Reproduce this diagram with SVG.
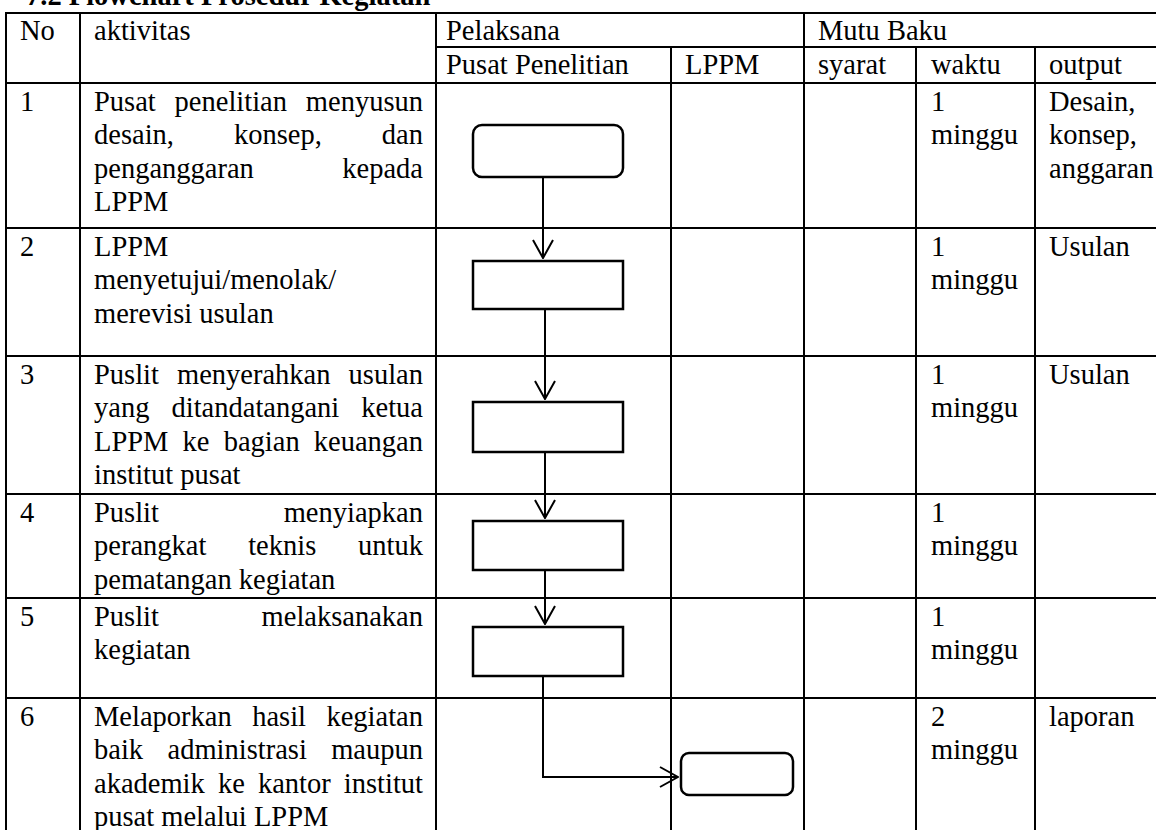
<svg xmlns="http://www.w3.org/2000/svg" width="1156" height="830" viewBox="0 0 1156 830">
<style>
  text { font-family: "Liberation Serif", "Times New Roman", serif; font-size: 28.5px; fill: #000; }
  .title { font-weight: bold; }
  .end { text-anchor: end; }
  .grid line { stroke: #000; stroke-width: 2; }
  .box { fill: #fff; stroke: #000; stroke-width: 2.5; }
  .conn { fill: none; stroke: #000; stroke-width: 2; }
</style>
<defs>
  <marker id="arrow" viewBox="0 0 20 22" refX="19" refY="11" markerWidth="20" markerHeight="22" markerUnits="userSpaceOnUse" orient="auto">
    <path d="M1,1 L19,11 L1,21" fill="none" stroke="#000" stroke-width="2"/>
  </marker>
</defs>
<rect width="1156" height="830" fill="#fff"/>

<text class="title" x="26" y="5">7.2 Flowchart Prosedur Kegiatan</text>

<g class="grid" id="table">
  <line x1="5" y1="13" x2="1156" y2="13"/>
  <line x1="436" y1="47" x2="1156" y2="47"/>
  <line x1="5" y1="83" x2="1156" y2="83"/>
  <line x1="5" y1="228" x2="1156" y2="228"/>
  <line x1="5" y1="356" x2="1156" y2="356"/>
  <line x1="5" y1="494" x2="1156" y2="494"/>
  <line x1="5" y1="598" x2="1156" y2="598"/>
  <line x1="5" y1="698" x2="1156" y2="698"/>
  <line x1="6" y1="12" x2="6" y2="830"/>
  <line x1="80" y1="12" x2="80" y2="830"/>
  <line x1="436" y1="12" x2="436" y2="830"/>
  <line x1="671" y1="47" x2="671" y2="830"/>
  <line x1="804" y1="12" x2="804" y2="830"/>
  <line x1="916" y1="47" x2="916" y2="830"/>
  <line x1="1035" y1="47" x2="1035" y2="830"/>
</g>

<g id="headers">
  <text x="20" y="40">No</text>
  <text x="94" y="40">aktivitas</text>
  <text x="446" y="40">Pelaksana</text>
  <text x="818" y="40">Mutu Baku</text>
  <text x="446" y="74">Pusat Penelitian</text>
  <text x="685" y="74">LPPM</text>
  <text x="818" y="74">syarat</text>
  <text x="931" y="74">waktu</text>
  <text x="1049" y="74">output</text>
</g>

<g id="row1">
  <text x="20" y="110.5">1</text>
  <text x="94" y="110.5">Pusat</text><text x="174.6" y="110.5">penelitian</text><text class="end" x="423" y="110.5">menyusun</text>
  <text x="94" y="144">desain,</text><text x="233.9" y="144">konsep,</text><text class="end" x="423" y="144">dan</text>
  <text x="94" y="177.5">penganggaran</text><text class="end" x="423" y="177.5">kepada</text>
  <text x="94" y="211">LPPM</text>
  <text x="931" y="110.5">1</text><text x="931" y="144">minggu</text>
  <text x="1049" y="110.5">Desain,</text><text x="1049" y="144">konsep,</text><text x="1049" y="177.5">anggaran</text>
</g>

<g id="row2">
  <text x="20" y="255.5">2</text>
  <text x="94" y="255.5">LPPM</text>
  <text x="94" y="289">menyetujui/menolak/</text>
  <text x="94" y="322.5">merevisi usulan</text>
  <text x="931" y="255.5">1</text><text x="931" y="289">minggu</text>
  <text x="1049" y="255.5">Usulan</text>
</g>

<g id="row3">
  <text x="20" y="383.5">3</text>
  <text x="94" y="383.5">Puslit</text><text x="177" y="383.5">menyerahkan</text><text class="end" x="423" y="383.5">usulan</text>
  <text x="94" y="417">yang</text><text x="171.5" y="417">ditandatangani</text><text class="end" x="423" y="417">ketua</text>
  <text x="94" y="450.5">LPPM</text><text x="182.6" y="450.5">ke</text><text x="223.7" y="450.5">bagian</text><text class="end" x="423" y="450.5">keuangan</text>
  <text x="94" y="484">institut pusat</text>
  <text x="931" y="383.5">1</text><text x="931" y="417">minggu</text>
  <text x="1049" y="383.5">Usulan</text>
</g>

<g id="row4">
  <text x="20" y="521.5">4</text>
  <text x="94" y="521.5">Puslit</text><text class="end" x="423" y="521.5">menyiapkan</text>
  <text x="94" y="555">perangkat</text><text x="248.2" y="555">teknis</text><text class="end" x="423" y="555">untuk</text>
  <text x="94" y="588.5">pematangan kegiatan</text>
  <text x="931" y="521.5">1</text><text x="931" y="555">minggu</text>
</g>

<g id="row5">
  <text x="20" y="625.5">5</text>
  <text x="94" y="625.5">Puslit</text><text class="end" x="423" y="625.5">melaksanakan</text>
  <text x="94" y="659">kegiatan</text>
  <text x="931" y="625.5">1</text><text x="931" y="659">minggu</text>
</g>

<g id="row6">
  <text x="20" y="725.5">6</text>
  <text x="94" y="725.5">Melaporkan</text><text x="252.2" y="725.5">hasil</text><text class="end" x="423" y="725.5">kegiatan</text>
  <text x="94" y="759">baik</text><text x="167.5" y="759">administrasi</text><text class="end" x="423" y="759">maupun</text>
  <text x="94" y="792.5">akademik</text><text x="217.9" y="792.5">ke</text><text x="257.9" y="792.5">kantor</text><text class="end" x="423" y="792.5">institut</text>
  <text x="94" y="826">pusat melalui LPPM</text>
  <text x="931" y="725.5">2</text><text x="931" y="759">minggu</text>
  <text x="1049" y="725.5">laporan</text>
</g>

<g id="node1"><rect class="box" x="473" y="125" width="150" height="52" rx="9"/></g>
<g id="node2"><rect class="box" x="473" y="261" width="150" height="48"/></g>
<g id="node3"><rect class="box" x="473" y="402" width="150" height="50"/></g>
<g id="node4"><rect class="box" x="473" y="521" width="150" height="49"/></g>
<g id="node5"><rect class="box" x="473" y="627" width="150" height="49"/></g>
<g id="node6"><rect class="box" x="681" y="753" width="112" height="42" rx="8"/></g>

<g id="connectors">
  <path class="conn" d="M543,177 L543,258" marker-end="url(#arrow)"/>
  <path class="conn" d="M545,309 L545,399" marker-end="url(#arrow)"/>
  <path class="conn" d="M545,452 L545,518" marker-end="url(#arrow)"/>
  <path class="conn" d="M545,570 L545,624" marker-end="url(#arrow)"/>
  <path class="conn" d="M543,676 L543,777 L678,777" marker-end="url(#arrow)"/>
</g>
</svg>
